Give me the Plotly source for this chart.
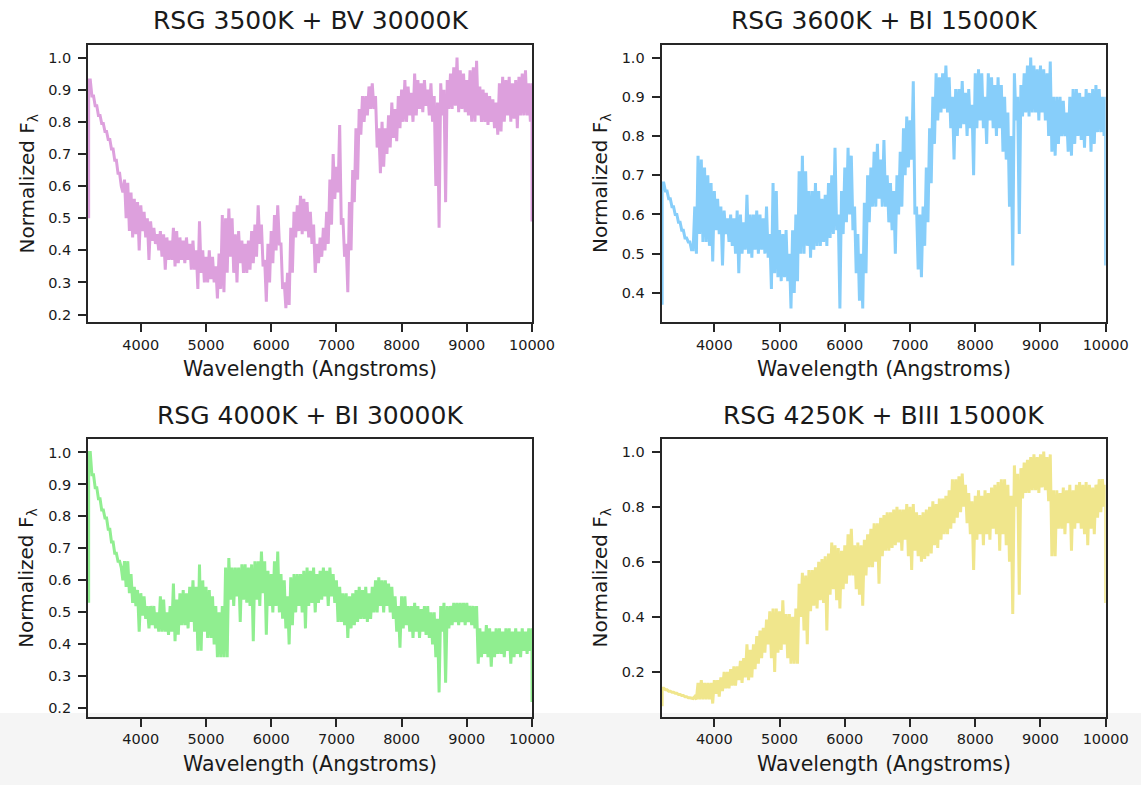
import plotly.graph_objects as go

W, H = 1141, 785

# wavelength grid (Angstroms); each bin holds the upper and lower flux
wavelength = list(range(3200, 10001, 50))

titles = ["RSG 3500K + BV 30000K", "RSG 3600K + BI 15000K",
          "RSG 4000K + BI 30000K", "RSG 4250K + BIII 15000K"]
colors = ["#DDA0DD", "#87CEFA", "#90EE90", "#F0E68C"]

edge_start = [0.50, 0.37, 0.53, 0.075]

hi_3500_bv = [
    0.93, 0.88, 0.85, 0.82, 0.795, 0.77, 0.745, 0.715, 0.68, 0.64,
    0.60, 0.62, 0.61, 0.58, 0.56, 0.55, 0.54, 0.52, 0.50, 0.49,
    0.47, 0.45, 0.46, 0.45, 0.44, 0.43, 0.47, 0.46, 0.44, 0.43,
    0.44, 0.42, 0.43, 0.40, 0.49, 0.40, 0.38, 0.40, 0.38, 0.35,
    0.39, 0.51, 0.50, 0.53, 0.50, 0.45, 0.46, 0.43, 0.42, 0.43,
    0.46, 0.48, 0.54, 0.48, 0.37, 0.42, 0.46, 0.51, 0.54, 0.42,
    0.30, 0.33, 0.47, 0.52, 0.54, 0.57, 0.56, 0.55, 0.52, 0.48,
    0.42, 0.44, 0.47, 0.52, 0.62, 0.70, 0.66, 0.79, 0.50, 0.42,
    0.55, 0.65, 0.78, 0.84, 0.88, 0.88, 0.91, 0.92, 0.88, 0.78,
    0.80, 0.78, 0.82, 0.86, 0.84, 0.88, 0.90, 0.93, 0.91, 0.89,
    0.95, 0.93, 0.92, 0.93, 0.90, 0.92, 0.88, 0.86, 0.92, 0.90,
    0.93, 0.95, 0.97, 1.00, 0.96, 0.95, 0.93, 0.96, 0.97, 0.99,
    0.91, 0.90, 0.89, 0.88, 0.87, 0.86, 0.92, 0.94, 0.93, 0.94,
    0.92, 0.93, 0.94, 0.95, 0.96, 0.92, 0.92,
]
lo_3500_bv = [
    0.93, 0.88, 0.85, 0.82, 0.795, 0.77, 0.745, 0.715, 0.68, 0.64,
    0.58, 0.50, 0.46, 0.44, 0.45, 0.40, 0.46, 0.44, 0.37, 0.43,
    0.42, 0.40, 0.38, 0.34, 0.37, 0.37, 0.35, 0.36, 0.37, 0.36,
    0.37, 0.34, 0.34, 0.28, 0.33, 0.30, 0.30, 0.31, 0.30, 0.25,
    0.28, 0.27, 0.33, 0.38, 0.33, 0.30, 0.36, 0.33, 0.33, 0.34,
    0.36, 0.38, 0.42, 0.35, 0.24, 0.30, 0.36, 0.40, 0.42, 0.28,
    0.22, 0.23, 0.33, 0.44, 0.46, 0.45, 0.46, 0.44, 0.42, 0.33,
    0.36, 0.38, 0.40, 0.42, 0.48, 0.56, 0.58, 0.48, 0.38, 0.27,
    0.40, 0.55, 0.62, 0.76, 0.80, 0.82, 0.84, 0.84, 0.72, 0.64,
    0.66, 0.70, 0.72, 0.75, 0.74, 0.78, 0.80, 0.80, 0.82, 0.80,
    0.82, 0.84, 0.83, 0.85, 0.82, 0.80, 0.60, 0.47, 0.82, 0.55,
    0.84, 0.84, 0.85, 0.83, 0.84, 0.83, 0.82, 0.80, 0.80, 0.82,
    0.80, 0.80, 0.79, 0.80, 0.78, 0.76, 0.77, 0.80, 0.82, 0.80,
    0.81, 0.78, 0.82, 0.82, 0.82, 0.80, 0.49,
]

hi_3600_bi = [
    0.68, 0.66, 0.64, 0.62, 0.60, 0.58, 0.56, 0.54, 0.53, 0.51,
    0.62, 0.75, 0.74, 0.72, 0.70, 0.68, 0.66, 0.64, 0.62, 0.61,
    0.59, 0.60, 0.59, 0.61, 0.60, 0.58, 0.65, 0.60, 0.60, 0.61,
    0.60, 0.59, 0.62, 0.55, 0.68, 0.66, 0.56, 0.55, 0.56, 0.50,
    0.56, 0.60, 0.71, 0.75, 0.71, 0.66, 0.66, 0.68, 0.66, 0.64,
    0.65, 0.68, 0.70, 0.77, 0.60, 0.66, 0.72, 0.77, 0.75, 0.62,
    0.55, 0.50, 0.63, 0.70, 0.72, 0.76, 0.78, 0.74, 0.79, 0.70,
    0.68, 0.66, 0.70, 0.76, 0.82, 0.85, 0.84, 0.94, 0.62, 0.60,
    0.62, 0.72, 0.82, 0.90, 0.96, 0.95, 0.96, 0.98, 0.95, 0.90,
    0.92, 0.92, 0.94, 0.91, 0.92, 0.88, 0.96, 0.97, 0.96, 0.90,
    0.96, 0.95, 0.93, 0.95, 0.93, 0.90, 0.86, 0.80, 0.96, 0.90,
    0.93, 0.96, 0.98, 1.00, 0.98, 0.97, 0.98, 0.97, 0.96, 0.99,
    0.90, 0.90, 0.90, 0.89, 0.86, 0.90, 0.92, 0.92, 0.91, 0.90,
    0.92, 0.91, 0.92, 0.93, 0.92, 0.90, 0.90,
]
lo_3600_bi = [
    0.68, 0.66, 0.64, 0.62, 0.60, 0.58, 0.56, 0.54, 0.53, 0.51,
    0.50, 0.55, 0.53, 0.53, 0.52, 0.48, 0.56, 0.55, 0.47, 0.55,
    0.53, 0.52, 0.50, 0.45, 0.50, 0.51, 0.50, 0.49, 0.51, 0.50,
    0.51, 0.50, 0.49, 0.41, 0.45, 0.44, 0.43, 0.44, 0.43, 0.36,
    0.40, 0.43, 0.50, 0.50, 0.52, 0.49, 0.51, 0.52, 0.52, 0.53,
    0.52, 0.54, 0.55, 0.56, 0.36, 0.55, 0.58, 0.60, 0.56, 0.45,
    0.38, 0.36, 0.45, 0.58, 0.62, 0.62, 0.64, 0.62, 0.62, 0.58,
    0.56, 0.50, 0.60, 0.62, 0.70, 0.72, 0.74, 0.60, 0.46, 0.44,
    0.52, 0.58, 0.68, 0.78, 0.84, 0.86, 0.87, 0.86, 0.82, 0.74,
    0.80, 0.82, 0.83, 0.80, 0.82, 0.70, 0.82, 0.84, 0.82, 0.78,
    0.84, 0.82, 0.80, 0.82, 0.76, 0.74, 0.62, 0.47, 0.84, 0.55,
    0.85, 0.86, 0.85, 0.86, 0.86, 0.84, 0.86, 0.84, 0.80, 0.76,
    0.75, 0.78, 0.80, 0.80, 0.76, 0.75, 0.78, 0.80, 0.79, 0.77,
    0.80, 0.76, 0.78, 0.81, 0.81, 0.80, 0.47,
]

hi_4000_bi = [
    1.00, 0.93, 0.89, 0.855, 0.82, 0.795, 0.76, 0.72, 0.685, 0.66,
    0.64, 0.66, 0.66, 0.62, 0.58, 0.57, 0.56, 0.55, 0.52, 0.52,
    0.52, 0.50, 0.55, 0.54, 0.50, 0.52, 0.59, 0.54, 0.56, 0.57,
    0.56, 0.58, 0.60, 0.58, 0.65, 0.60, 0.58, 0.57, 0.55, 0.52,
    0.50, 0.52, 0.64, 0.67, 0.64, 0.64, 0.64, 0.65, 0.65, 0.64,
    0.65, 0.66, 0.66, 0.69, 0.66, 0.63, 0.62, 0.66, 0.69, 0.62,
    0.60, 0.55, 0.61, 0.62, 0.62, 0.62, 0.63, 0.64, 0.63, 0.64,
    0.62, 0.63, 0.64, 0.63, 0.64, 0.62, 0.60, 0.58, 0.56, 0.56,
    0.55, 0.56, 0.57, 0.58, 0.57, 0.58, 0.56, 0.58, 0.60, 0.61,
    0.60, 0.60, 0.59, 0.58, 0.55, 0.52, 0.55, 0.55, 0.52, 0.52,
    0.53, 0.52, 0.51, 0.52, 0.52, 0.50, 0.50, 0.48, 0.52, 0.53,
    0.52, 0.52, 0.53, 0.53, 0.53, 0.53, 0.53, 0.52, 0.52, 0.52,
    0.45, 0.44, 0.46, 0.45, 0.44, 0.45, 0.45, 0.44, 0.45, 0.45,
    0.44, 0.45, 0.44, 0.45, 0.44, 0.45, 0.45,
]
lo_4000_bi = [
    1.00, 0.93, 0.89, 0.855, 0.82, 0.795, 0.76, 0.72, 0.685, 0.66,
    0.60, 0.58, 0.56, 0.53, 0.52, 0.44, 0.49, 0.48, 0.45, 0.46,
    0.45, 0.44, 0.44, 0.44, 0.43, 0.44, 0.41, 0.43, 0.46, 0.46,
    0.45, 0.47, 0.44, 0.38, 0.38, 0.44, 0.42, 0.42, 0.40, 0.36,
    0.36, 0.36, 0.36, 0.54, 0.52, 0.55, 0.47, 0.54, 0.53, 0.52,
    0.41, 0.54, 0.52, 0.56, 0.43, 0.52, 0.50, 0.52, 0.50, 0.48,
    0.45, 0.40, 0.46, 0.50, 0.52, 0.50, 0.45, 0.52, 0.53, 0.50,
    0.53, 0.54, 0.55, 0.52, 0.55, 0.53, 0.47, 0.47, 0.46, 0.42,
    0.45, 0.46, 0.47, 0.48, 0.48, 0.47, 0.48, 0.50, 0.50, 0.52,
    0.50, 0.52, 0.50, 0.48, 0.44, 0.39, 0.45, 0.46, 0.44, 0.42,
    0.44, 0.42, 0.44, 0.43, 0.42, 0.40, 0.36, 0.25, 0.44, 0.28,
    0.45, 0.46, 0.47, 0.46, 0.47, 0.46, 0.47, 0.46, 0.45, 0.34,
    0.36, 0.37, 0.36, 0.33, 0.36, 0.37, 0.37, 0.36, 0.38, 0.34,
    0.36, 0.37, 0.36, 0.38, 0.37, 0.38, 0.22,
]

hi_4250_biii = [
    0.140, 0.135, 0.130, 0.126, 0.122, 0.118, 0.114, 0.110, 0.106, 0.103,
    0.11, 0.16, 0.17, 0.16, 0.16, 0.16, 0.17, 0.17, 0.18, 0.20,
    0.20, 0.21, 0.22, 0.22, 0.24, 0.25, 0.30, 0.28, 0.30, 0.33,
    0.35, 0.36, 0.39, 0.42, 0.43, 0.43, 0.42, 0.46, 0.41, 0.41,
    0.40, 0.43, 0.52, 0.56, 0.55, 0.57, 0.57, 0.58, 0.60, 0.61,
    0.62, 0.63, 0.67, 0.66, 0.65, 0.64, 0.66, 0.70, 0.72, 0.66,
    0.67, 0.66, 0.68, 0.70, 0.72, 0.74, 0.74, 0.76, 0.77, 0.78,
    0.78, 0.79, 0.80, 0.79, 0.79, 0.81, 0.80, 0.81, 0.78, 0.77,
    0.78, 0.79, 0.80, 0.82, 0.81, 0.83, 0.83, 0.84, 0.86, 0.90,
    0.90, 0.91, 0.92, 0.88, 0.85, 0.82, 0.84, 0.86, 0.84, 0.86,
    0.85, 0.87, 0.88, 0.89, 0.90, 0.90, 0.88, 0.84, 0.95, 0.92,
    0.94, 0.96, 0.97, 0.98, 0.99, 0.98, 0.99, 1.00, 0.98, 0.99,
    0.86, 0.86, 0.85, 0.87, 0.86, 0.88, 0.86, 0.88, 0.89, 0.88,
    0.89, 0.88, 0.87, 0.88, 0.90, 0.90, 0.88,
]
lo_4250_biii = [
    0.140, 0.135, 0.130, 0.126, 0.122, 0.118, 0.114, 0.110, 0.106, 0.103,
    0.10, 0.10, 0.10, 0.10, 0.10, 0.085, 0.12, 0.11, 0.13, 0.14,
    0.14, 0.15, 0.15, 0.17, 0.16, 0.18, 0.17, 0.18, 0.21, 0.23,
    0.25, 0.27, 0.30, 0.25, 0.20, 0.27, 0.28, 0.30, 0.25, 0.23,
    0.23, 0.23, 0.40, 0.35, 0.30, 0.42, 0.44, 0.43, 0.46, 0.45,
    0.35, 0.48, 0.50, 0.46, 0.43, 0.50, 0.52, 0.55, 0.55, 0.50,
    0.48, 0.44, 0.55, 0.58, 0.58, 0.60, 0.52, 0.62, 0.64, 0.64,
    0.65, 0.66, 0.67, 0.64, 0.68, 0.62, 0.57, 0.64, 0.62, 0.60,
    0.61, 0.62, 0.63, 0.66, 0.65, 0.68, 0.70, 0.70, 0.72, 0.74,
    0.76, 0.78, 0.80, 0.74, 0.70, 0.57, 0.68, 0.70, 0.66, 0.70,
    0.68, 0.72, 0.70, 0.64, 0.70, 0.66, 0.60, 0.41, 0.80, 0.48,
    0.83, 0.85, 0.85, 0.86, 0.86, 0.85, 0.87, 0.86, 0.82, 0.62,
    0.62, 0.72, 0.72, 0.70, 0.74, 0.64, 0.72, 0.74, 0.72, 0.70,
    0.66, 0.72, 0.70, 0.76, 0.78, 0.80, 0.45,
]

upper = [hi_3500_bv, hi_3600_bi, hi_4000_bi, hi_4250_biii]
lower = [lo_3500_bv, lo_3600_bi, lo_4000_bi, lo_4250_biii]

x_ticks = [4000, 5000, 6000, 7000, 8000, 9000, 10000]
y_ticks = [
    [0.2, 0.3, 0.4, 0.5, 0.6, 0.7, 0.8, 0.9, 1.0],
    [0.4, 0.5, 0.6, 0.7, 0.8, 0.9, 1.0],
    [0.2, 0.3, 0.4, 0.5, 0.6, 0.7, 0.8, 0.9, 1.0],
    [0.2, 0.4, 0.6, 0.8, 1.0],
]
y_ranges = [[0.176, 1.040], [0.325, 1.033], [0.174, 1.042], [0.036, 1.046]]
x_range = [3190, 10000]

# pixel boxes (left, top, right, bottom)
boxes = [(88, 44.7, 532, 322.3), (661.5, 44.7, 1105.7, 322.3),
         (88, 439, 532, 716.7), (661.5, 439, 1105.7, 717)]

FONT = "DejaVu Sans"
TXT = "#1a1a1a"
AX = "#262626"


def zigzag(hi, lo, start):
    """Trace through each bin: its upper value, then its lower value."""
    xs, ys = [wavelength[0]], [start]
    step = wavelength[1] - wavelength[0]
    last = len(wavelength) - 1
    for k, w in enumerate(wavelength[:len(hi)]):
        xs.append(w)
        ys.append(hi[k])
        xs.append(w if k == last else w + step / 2)
        ys.append(lo[k])
    return xs, ys


fig = go.Figure()
layout = dict(width=W, height=H, autosize=False,
              margin=dict(l=0, r=0, t=0, b=0, pad=0, autoexpand=False),
              paper_bgcolor="white", plot_bgcolor="white", showlegend=False,
              font=dict(family=FONT, color=TXT))
annotations = []
shapes = [dict(type="rect", xref="paper", yref="paper", x0=0, x1=1,
               y0=0, y1=1 - 713 / H, fillcolor="#f5f5f5", line=dict(width=0),
               layer="below")]

for i, col in enumerate(colors):
    n = i + 1
    xa = "x" if n == 1 else f"x{n}"
    ya = "y" if n == 1 else f"y{n}"
    xs, ys = zigzag(upper[i], lower[i], edge_start[i])
    fig.add_trace(go.Scatter(x=xs, y=ys, mode="lines",
                             line=dict(color=col, width=3),
                             xaxis=xa, yaxis=ya, hoverinfo="skip"))
    l, t, r, b = boxes[i]
    axis_common = dict(showline=True, linecolor=AX, linewidth=1.8, mirror=True,
                       ticks="outside", ticklen=8, tickwidth=1.5, tickcolor=AX,
                       showgrid=False, zeroline=False, automargin=False,
                       tickfont=dict(family=FONT, size=14.5, color=TXT))
    layout["xaxis" if n == 1 else f"xaxis{n}"] = dict(
        axis_common, domain=[l / W, r / W], range=x_range,
        tickvals=x_ticks, ticktext=[str(v) for v in x_ticks],
        anchor=ya)
    layout["yaxis" if n == 1 else f"yaxis{n}"] = dict(
        axis_common, domain=[1 - b / H, 1 - t / H], range=y_ranges[i],
        tickvals=y_ticks[i], ticktext=[f"{v:.1f}" for v in y_ticks[i]],
        ticklabelstandoff=4, anchor=xa)
    cx = (l + r) / 2
    cy = (t + b) / 2
    annotations.append(dict(text=titles[i], xref="paper", yref="paper",
                            x=cx / W, y=1 - (t - 24) / H, xanchor="center",
                            yanchor="middle", showarrow=False,
                            font=dict(family=FONT, size=25, color=TXT)))
    annotations.append(dict(text="Wavelength (Angstroms)", xref="paper",
                            yref="paper", x=cx / W, y=1 - (b + 47) / H,
                            xanchor="center", yanchor="middle", showarrow=False,
                            font=dict(family=FONT, size=20.5, color=TXT)))
    annotations.append(dict(text="Normalized F<sub>λ</sub>", xref="paper",
                            yref="paper", x=(l - 61) / W, y=1 - cy / H,
                            xanchor="center", yanchor="middle", textangle=-90,
                            showarrow=False,
                            font=dict(family=FONT, size=20, color=TXT)))

layout["annotations"] = annotations
layout["shapes"] = shapes
fig.update_layout(**layout)
fig.write_html("out.html", config={"responsive": False})
